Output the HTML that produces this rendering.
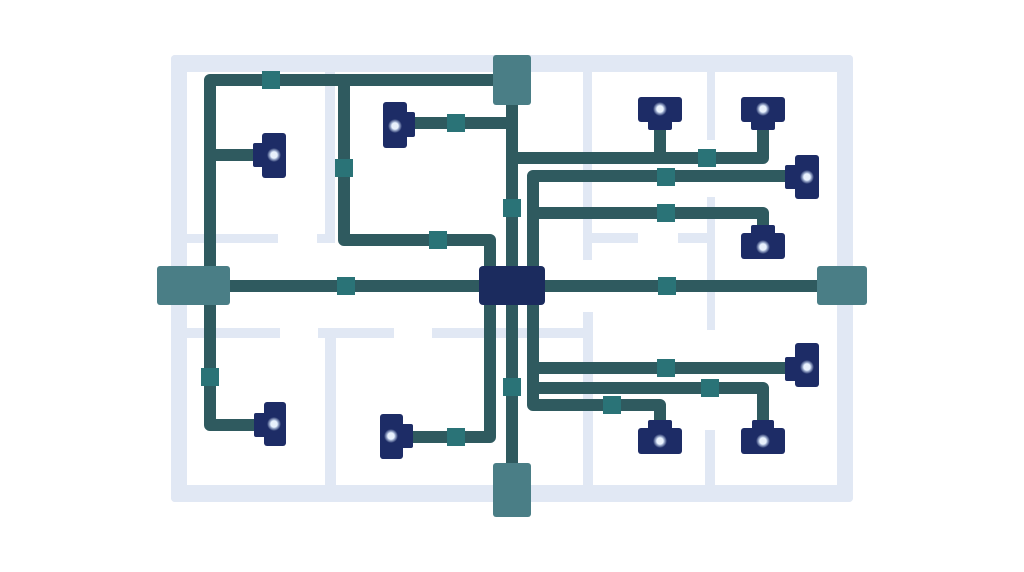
<!DOCTYPE html>
<html><head><meta charset="utf-8"><style>
html,body{margin:0;padding:0;background:#fff;}
svg{display:block;}
</style></head><body>
<svg width="1024" height="572" viewBox="0 0 1024 572" xmlns="http://www.w3.org/2000/svg">
<defs>
<radialGradient id="g"><stop offset="0" stop-color="#e6eefa"/><stop offset="0.5" stop-color="#c9d8ef"/><stop offset="1" stop-color="#c9d8ef" stop-opacity="0"/></radialGradient>
</defs>
<rect width="1024" height="572" fill="#ffffff"/>
<g fill="#e1e8f4">
<rect x="171" y="55" width="682" height="17" rx="4"/>
<rect x="171" y="485" width="682" height="17" rx="4"/>
<rect x="171" y="55" width="16" height="447" rx="4"/>
<rect x="837" y="55" width="16" height="447" rx="4"/>
<rect x="325" y="72" width="10" height="171"/>
<rect x="187" y="234" width="91" height="9"/>
<rect x="317" y="234" width="18" height="9"/>
<rect x="583" y="72" width="9" height="188"/>
<rect x="592" y="233" width="46" height="10"/>
<rect x="678" y="233" width="37" height="10"/>
<rect x="707" y="72" width="8" height="68"/>
<rect x="707" y="197" width="8" height="133"/>
<rect x="187" y="328" width="93" height="10"/>
<rect x="318" y="328" width="76" height="10"/>
<rect x="432" y="328" width="160" height="10"/>
<rect x="325" y="328" width="11" height="157"/>
<rect x="583" y="312" width="10" height="173"/>
<rect x="705" y="430" width="10" height="55"/>
</g>
<g fill="none" stroke="#2f5a5f" stroke-width="12" stroke-linejoin="round" stroke-linecap="butt">
<path d="M500 80 H210 V425 H262"/>
<path d="M210 155 H262"/>
<path d="M344 80 V240 H490 V290"/>
<path d="M412 123 H512"/>
<path d="M512 100 V470"/>
<path d="M200 286 H830"/>
<path d="M512 158 H763 V125"/>
<path d="M660 158 V125"/>
<path d="M533 290 V176 H790"/>
<path d="M533 213 H763 V230"/>
<path d="M490 290 V437 H410"/>
<path d="M533 290 V405 H660 V425"/>
<path d="M533 368 H790"/>
<path d="M533 388 H763 V425"/>
</g>
<g fill="#2a7377">
<rect x="262" y="71" width="18" height="18"/>
<rect x="335" y="159" width="18" height="18"/>
<rect x="447" y="114" width="18" height="18"/>
<rect x="429" y="231" width="18" height="18"/>
<rect x="503" y="199" width="18" height="18"/>
<rect x="337" y="277" width="18" height="18"/>
<rect x="658" y="277" width="18" height="18"/>
<rect x="698" y="149" width="18" height="18"/>
<rect x="657" y="168" width="18" height="18"/>
<rect x="657" y="204" width="18" height="18"/>
<rect x="201" y="368" width="18" height="18"/>
<rect x="447" y="428" width="18" height="18"/>
<rect x="503" y="378" width="18" height="18"/>
<rect x="657" y="359" width="18" height="18"/>
<rect x="701" y="379" width="18" height="18"/>
<rect x="603" y="396" width="18" height="18"/>
</g>
<g fill="#4a7e86">
<rect x="493" y="55" width="38" height="50" rx="3"/>
<rect x="157" y="266" width="73" height="39" rx="3"/>
<rect x="817" y="266" width="50" height="39" rx="3"/>
<rect x="493" y="463" width="38" height="54" rx="3"/>
</g>
<rect x="479" y="266" width="66" height="39" rx="4" fill="#1b2b5e"/>
<g fill="#1d2c66">
<rect x="262" y="133" width="24" height="45" rx="3"/><rect x="253" y="143" width="12" height="24" rx="2"/>
<rect x="383" y="102" width="24" height="46" rx="3"/><rect x="404" y="112" width="11" height="25" rx="2"/>
<rect x="638" y="97" width="44" height="25" rx="3"/><rect x="648" y="118" width="24" height="12" rx="2"/>
<rect x="741" y="97" width="44" height="25" rx="3"/><rect x="751" y="118" width="24" height="12" rx="2"/>
<rect x="795" y="155" width="24" height="44" rx="3"/><rect x="785" y="165" width="13" height="24" rx="2"/>
<rect x="751" y="225" width="24" height="12" rx="2"/><rect x="741" y="233" width="44" height="26" rx="3"/>
<rect x="264" y="402" width="22" height="44" rx="3"/><rect x="254" y="413" width="13" height="24" rx="2"/>
<rect x="380" y="414" width="23" height="45" rx="3"/><rect x="400" y="424" width="13" height="24" rx="2"/>
<rect x="795" y="343" width="24" height="44" rx="3"/><rect x="785" y="357" width="13" height="24" rx="2"/>
<rect x="648" y="420" width="24" height="12" rx="2"/><rect x="638" y="428" width="44" height="26" rx="3"/>
<rect x="752" y="420" width="22" height="12" rx="2"/><rect x="741" y="428" width="44" height="26" rx="3"/>
</g>
<g fill="url(#g)">
<circle cx="274" cy="155" r="7"/><circle cx="395" cy="126" r="7"/>
<circle cx="660" cy="109" r="7"/><circle cx="763" cy="109" r="7"/>
<circle cx="807" cy="177" r="7"/><circle cx="763" cy="247" r="7"/>
<circle cx="274" cy="424" r="7"/><circle cx="391" cy="436" r="7"/>
<circle cx="807" cy="367" r="7"/><circle cx="660" cy="441" r="7"/><circle cx="763" cy="441" r="7"/>
</g>
<g fill="#e8f0fb">
<circle cx="274" cy="155" r="3.5"/><circle cx="395" cy="126" r="3.5"/>
<circle cx="660" cy="109" r="3.5"/><circle cx="763" cy="109" r="3.5"/>
<circle cx="807" cy="177" r="3.5"/><circle cx="763" cy="247" r="3.5"/>
<circle cx="274" cy="424" r="3.5"/><circle cx="391" cy="436" r="3.5"/>
<circle cx="807" cy="367" r="3.5"/><circle cx="660" cy="441" r="3.5"/><circle cx="763" cy="441" r="3.5"/>
</g>
</svg>
</body></html>
